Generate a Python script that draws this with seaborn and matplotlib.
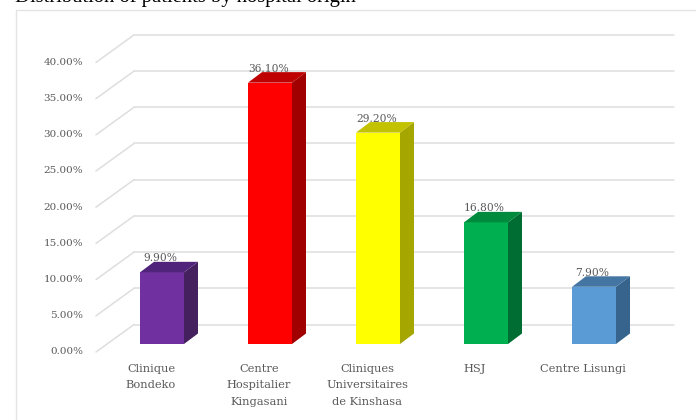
import matplotlib
matplotlib.use('Agg')
import matplotlib.pyplot as plt
from matplotlib.patches import Polygon
import pandas as pd
import seaborn as sns

# data
hospitals = ['Clinique\nBondeko', 'Centre\nHospitalier\nKingasani',
             'Cliniques\nUniversitaires\nde Kinshasa', 'HSJ', 'Centre Lisungi']
shares = [9.9, 36.1, 29.2, 16.8, 7.9]
ticks = [0, 5, 10, 15, 20, 25, 30, 35, 40]
front_colors = ['#7030A0', '#FF0000', '#FFFF00', '#00B050', '#5B9BD5']
side_colors = ['#45205F', '#A00000', '#A6A600', '#006E32', '#36648C']
top_colors = ['#50247A', '#BF0000', '#C2C200', '#008A3E', '#4475A3']

sns.set_theme(style='white')
plt.rcParams['font.family'] = ['DejaVu Serif']

df = pd.DataFrame({'hospital': hospitals, 'share': shares})

# one axes over the whole figure, 108 px per category and 7.24 px per percent
px_x = 1 / 108
px_y = 1 / 7.24
fig = plt.figure(figsize=(6.96, 4.2), dpi=100)
ax = fig.add_axes([0, 0, 1, 1])

sns.barplot(data=df, x='hospital', y='share', hue='hospital', palette=front_colors,
            width=44 / 108, legend=False, saturation=1, linewidth=0, ax=ax, zorder=3)
ax.set_xlim(-162 * px_x, 534 * px_x)
ax.set_ylim(-76 * px_y, 344 * px_y)
ax.axis('off')


def X(px):
    return (px - 162) * px_x


def Y(py):
    return (344 - py) * px_y


# chart frame
ax.plot([X(16), X(16), X(696)], [Y(420), Y(10.5), Y(10.5)], color='#E4E4E4', lw=1, zorder=1)

# walls
grid_color = '#DEDEDE'
wall_left, wall_right = X(134), X(674)
lift_back = 19.5 * px_y   # back wall sits above the bar base
lift_front = -8 * px_y    # front edge sits below it
for t in ticks:
    ax.plot([wall_left, wall_right], [t + lift_back, t + lift_back], color=grid_color, lw=1.1, zorder=1)
    ax.plot([X(96), wall_left], [t + lift_front, t + lift_back], color=grid_color, lw=1.1, zorder=1)
    ax.text(X(83), t + lift_front, f'{t:.2f}%', ha='right', va='center',
            fontsize=7.5, color='#595959')

# 3d faces from the bars seaborn drew
dx, dy = 14 * px_x, 10.5 * px_y
for i, bar in enumerate(ax.patches[:len(shares)]):
    x0, w, h = bar.get_x(), bar.get_width(), bar.get_height()
    x1 = x0 + w
    ax.add_patch(Polygon([(x1, 0), (x1 + dx, dy), (x1 + dx, h + dy), (x1, h)],
                         closed=True, color=side_colors[i], lw=0, zorder=3))
    ax.add_patch(Polygon([(x0, h), (x0 + dx, h + dy), (x1 + dx, h + dy), (x1, h)],
                         closed=True, color=top_colors[i], lw=0, zorder=3))
    ax.text(x0 + w / 2 - 1.5 * px_x, h + 14 * px_y, f'{shares[i]:.2f}%', ha='center', va='center',
            fontsize=7.7, color='#595959', zorder=4)
    ax.text(x0 + w / 2 - 11 * px_x, Y(364), hospitals[i], ha='center', va='top',
            fontsize=8.2, color='#595959', linespacing=1.8)

ax.text(X(15), Y(-2.5), 'Distribution of patients by hospital origin', ha='left', va='center',
        fontsize=14.9, color='black', family='Liberation Serif')

fig.savefig('out.png', dpi=100)
